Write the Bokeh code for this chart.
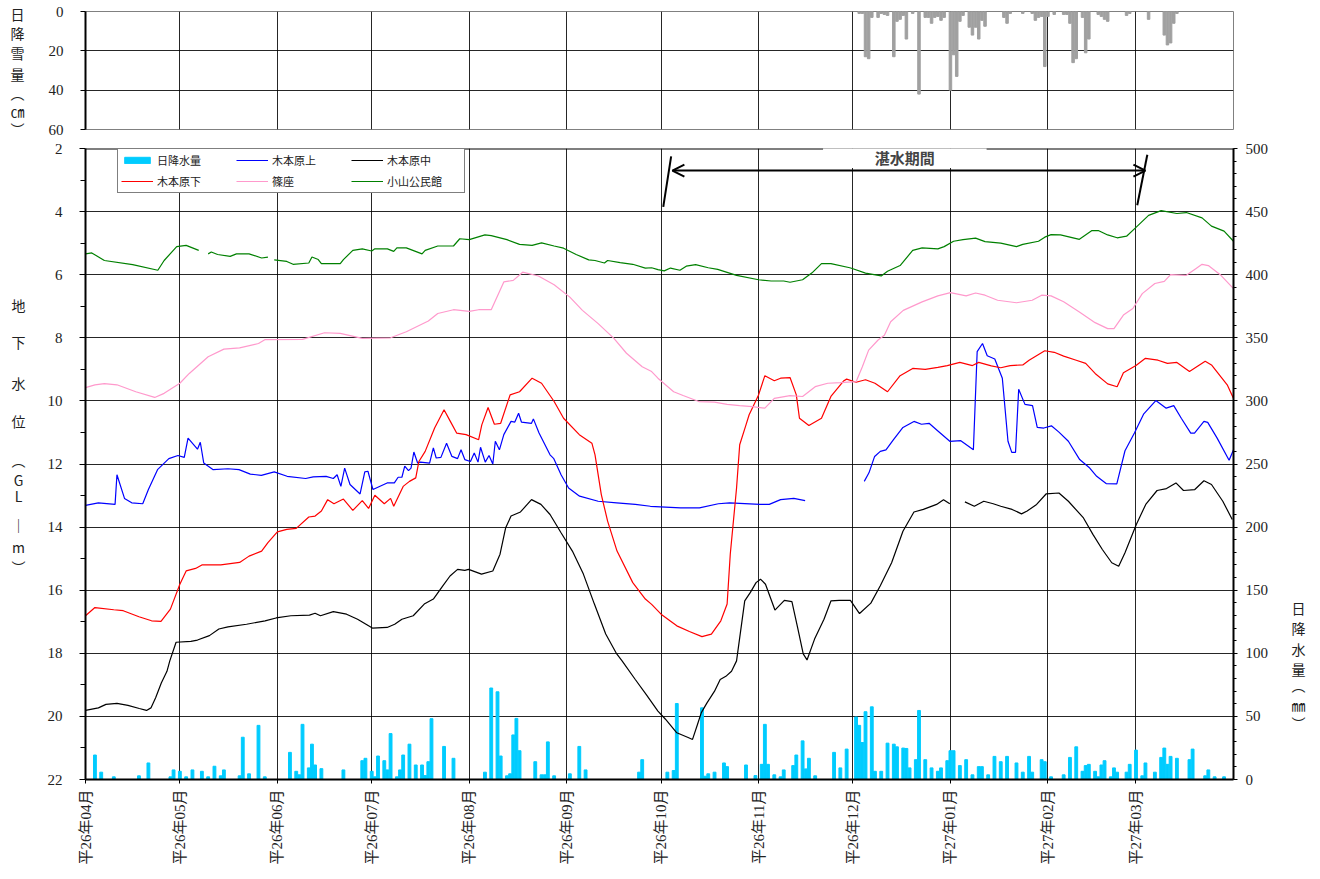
import math
from datetime import date
from bokeh.plotting import figure
from bokeh.layouts import column, row
from bokeh.models import (Range1d, LinearAxis, FixedTicker, Label, Span, BoxAnnotation,
                          Arrow, OpenHead, Legend, LegendItem, Grid)
from bokeh.core.properties import value
from bokeh.embed import file_html
from bokeh.resources import INLINE

NAN = float("nan")
BASE = date(2014, 4, 1)
MONTH_DATES = [date(2014, m, 1) for m in range(4, 13)] + [date(2015, m, 1) for m in (1, 2, 3)]
MONTH_TICKS = [(d - BASE).days for d in MONTH_DATES]
MONTH_LABELS = ["平26年04月", "平26年05月", "平26年06月", "平26年07月", "平26年08月", "平26年09月",
                "平26年10月", "平26年11月", "平26年12月", "平27年01月", "平27年02月", "平27年03月"]
N_DAYS = (date(2015, 4, 1) - BASE).days

# ---- daily snowfall (cm), day index from 2014-04-01 ----
SNOW_DAY = [246, 247, 248, 249, 250, 252, 253, 254, 255, 257, 258, 259, 260, 261, 263, 265, 267, 268,
            269, 270, 271, 272, 273, 275, 276, 277, 278, 279, 281, 282, 283, 284, 285, 286, 292, 293,
            294, 298, 301, 302, 303, 304, 305, 306, 308, 311, 312, 313, 314, 315, 317, 318, 319, 322,
            323, 324, 325, 331, 332, 338, 343, 344, 345, 346, 347]
SNOW_CM = [1, 1, 23, 24, 3, 3, 1, 1.5, 2, 23, 5, 4, 2, 14, 1, 42, 3, 3,
           6, 3, 2.5, 4.5, 3, 40, 22, 33, 5, 2, 8, 12, 8, 14, 4.5, 7.5, 3, 6,
           1, 1, 1, 4.5, 3, 2.5, 28, 2.5, 1.5, 1.5, 1.5, 6, 26, 24, 3, 21, 14, 1.5,
           2.5, 4, 5, 2, 1, 4, 12, 17, 16, 6, 1]

# ---- daily precipitation (mm) ----
RAIN_DAY = [3, 5, 9, 17, 20, 27, 28, 30, 32, 34, 37, 39, 41, 43, 44, 49, 50, 52, 55, 57,
            65, 67, 68, 69, 71, 72, 73, 75, 82, 88, 89, 91, 92, 93, 95, 96, 97, 99, 100, 101,
            103, 105, 107, 108, 109, 110, 114, 117, 127, 129, 131, 132, 134, 135, 136, 137, 138, 143, 145, 146,
            147, 149, 154, 157, 159, 176, 177,
            185, 187, 188, 196, 197, 198, 200, 203, 204, 210, 213, 215, 216, 217, 219, 221, 222, 225,
            226, 228, 229, 230, 232, 238, 240, 242, 245, 246, 247, 248, 250, 251, 253, 255, 257, 258,
            260, 261, 262, 264, 265, 267, 269, 271, 272, 274, 275, 276, 278, 280, 282, 284, 285, 287,
            289, 291, 293, 296, 298, 300, 301, 304, 305, 307, 311, 313, 315, 317, 318, 319, 321, 322,
            323, 324, 326, 327, 328, 331, 332, 334, 336, 337, 340, 342, 343, 344, 345, 347, 351, 352,
            356, 357, 359, 362]
RAIN_MM = [19.4, 5.8, 2.1, 2.9, 13.1, 2.1, 7.6, 6.5, 2.1, 7.6, 6.5, 2.1, 10.5, 2.9, 7.6, 2.9, 33.5, 4.5, 42.9, 2.1,
           21.5, 6.5, 3.7, 43.7, 9.2, 28, 11.5, 8.6, 7.6, 14.9, 16.8, 6.5, 2.1, 18.6, 14.9, 7.6, 36.4, 2.1, 7.6, 19.4,
           28, 11.5, 11.5, 3.1, 14.1, 48.2, 26.2, 16.8, 5.8, 72.5, 69.5, 18.6, 2.9, 4.5, 35.3, 48.4, 22.8, 14.1, 3.7, 3.7,
           29.8, 2.9, 4.5, 26.2, 7.6, 5.8, 15.7,
           5.8, 7.1, 60.2, 56.8, 2.6, 4.5, 5.8, 13.1, 10.2, 11.5, 3.1, 12, 43.7, 12, 3.7, 2.1, 7.6, 11,
           19.4, 30.6, 8.4, 16.8, 2.9, 21.5, 9.2, 24.1, 49.5, 42.9, 29.3, 53.7, 57.6, 6.5, 6.5, 28.8, 28, 25.9,
           24.9, 24.6, 9.2, 15.7, 54.7, 15.7, 9.2, 6.5, 9.2, 14.9, 22.8, 22.8, 11, 15.7, 3.7, 10.2, 10.2, 3.7,
           18.3, 14.1, 18.3, 13.1, 5.8, 18.3, 5.8, 15.7, 14.1, 2.1, 3.7, 17.5, 25.9, 6.5, 11, 12, 6.5, 2.1,
           11.5, 14.9, 2.1, 9.2, 5.8, 5.8, 12, 23.3, 2.9, 13.1, 5.8, 17.5, 24.9, 12, 18.3, 16.8, 15.7, 24.1,
           2.9, 7.6, 2.1, 2.1]

# ---- groundwater level (GL -m) ----
UE_DAY = [0, 4.1, 9.4, 10, 12.4, 14.7, 18.2, 20, 22.9, 26.5, 29.4, 31.4, 32.6, 35.6, 36.5, 37.6, 40.6, 45.3,
          48.8, 52.4, 55.9, 60, 64.1, 70, 72.4, 76.5, 78.8, 80, 81.2, 82.4, 84.1, 87.3, 88.8, 89.8, 91.4,
          95.9, 98.2, 99.4, 100.6, 101.5, 102.7, 103.5, 104.4, 105.6, 106.5, 109.4, 110.6, 111.5, 113,
          114.8, 116.5, 118.3, 119.4, 120.6, 122.4, 123.6, 124.8, 125.6, 127.1, 128.3, 129.5, 130.3,
          131.6, 133, 135.3, 136.5, 137.7, 138.6, 141.8, 142.4, 144.2, 147.7, 148.9, 151.2, 153.6,
          157.1, 163, 168.9, 174.8, 179.6, 189.2, 195.2, 201.2, 204.8, 214.4, 217.4, 221, 225.2, 228.8,
          238,
          247.6, 249.1, 250.9, 252.7, 254.5, 256.9, 259.9, 263.4, 265.8, 268.2, 271.2, 274.8, 278.3,
          282.3, 283.5, 285.2, 286.7, 289.1, 291.5, 293.3, 294.5, 295.7, 296.7, 298.7, 301.1, 302.6,
          304.7, 307.1, 309.5, 312.5, 316.1, 319.1, 321.5, 324.5, 327.9, 330.5, 333.5, 336.4, 340.3,
          343.6, 346, 348.4, 351.4, 352.6, 355.6, 356.8, 359.8, 363.6, 365]
UE_VAL = [13.31, 13.23, 13.28, 12.34, 13.09, 13.23, 13.26, 12.81, 12.18, 11.83, 11.73, 11.79, 11.18, 11.53,
          11.31, 11.97, 12.18, 12.15, 12.18, 12.32, 12.36, 12.25, 12.39, 12.46, 12.41, 12.39, 12.46, 12.34,
          12.71, 12.13, 12.65, 12.95, 12.25, 12.23, 12.81, 12.6, 12.6, 12.42, 12.42, 12.07, 12.21, 12.13,
          11.62, 11.97, 11.94, 11.97, 11.49, 11.81, 11.79, 11.34, 11.76, 11.83, 11.55, 11.86, 11.92, 11.65,
          11.94, 11.47, 11.94, 11.73, 12.0, 11.28, 11.55, 11.07, 10.65, 10.67, 10.39, 10.67, 10.71, 10.57,
          11.02, 11.71, 11.83, 12.34, 12.76, 13.02, 13.18, 13.23, 13.28, 13.34, 13.39, 13.39, 13.26, 13.23,
          13.28, 13.28, 13.13, 13.09, 13.16,
          NAN,
          12.55, 12.28, 11.76, 11.6, 11.55, 11.23, 10.84, 10.65, 10.74, 10.71, 10.97, 11.28, 11.26, 11.55,
          8.44, 8.18, 8.57, 8.67, 9.28, 11.28, 11.63, 11.63, 9.63, 10.11, 10.15, 10.84, 10.86, 10.79, 10.99,
          11.28, 11.86, 12.11, 12.39, 12.62, 12.63, 11.58, 11.02, 10.42, 9.99, 10.23, 10.15, 10.55, 11.02,
          11.02, 10.65, 10.68, 11.18, 11.88, 11.55]

NAKA_DAY = [0, 4.1, 6.5, 10, 13.5, 17.1, 19.4, 20.8, 22.3, 24.1, 25.9, 26.8, 28.8, 33.5, 35.6, 39.4, 42.4,
            45.3, 51.2, 57.1, 60.6, 65.3, 71.2, 73, 74.7, 78.8, 83, 86.5, 91.2, 95.9, 98.3, 100.6, 104.2,
            107.7, 110.6, 113.6, 115.9, 118.3, 120.6, 121.8, 125.9, 129.5, 131.8, 133.6, 135.3, 138.3,
            141.8, 144.8, 147.7, 151.2, 154.8, 158.3, 161.8, 165.4, 168.9, 170.6, 174.8, 178.3, 182,
            184.4, 188, 191.6, 193, 194.6, 195.8, 197.6, 200, 201.8, 203.6, 205.4, 207, 209.6, 211.4,
            213.2, 214.6, 216.2, 219.2, 222.2, 224.6, 226.4, 228.2, 229.4, 231.8, 234.8, 237, 239.6,
            243.2, 246.1, 249.7, 252.7, 256.3, 259.9, 263.4, 266.4, 270.6, 272.8, 274.8,
            277,
            279.6, 282.6, 285.6, 288.6, 291, 294.6, 297.6, 299.4, 302.4, 305.4, 309.5, 312.5, 317.3,
            320.3, 323.3, 326.3, 328.5, 330.5, 334.1, 337.1, 340.7, 343.7, 346.7, 349.1, 352.7, 355.6,
            358, 361.6, 364.6]
NAKA_VAL = [19.81, 19.73, 19.62, 19.59, 19.65, 19.75, 19.81, 19.73, 19.41, 18.94, 18.57, 18.24, 17.65, 17.62,
            17.58, 17.44, 17.23, 17.16, 17.08, 16.97, 16.88, 16.81, 16.79, 16.73, 16.81, 16.68, 16.76, 16.92,
            17.2, 17.18, 17.08, 16.92, 16.81, 16.44, 16.28, 15.86, 15.55, 15.34, 15.37, 15.34, 15.49, 15.39,
            14.86, 14.02, 13.65, 13.52, 13.13, 13.28, 13.6, 14.18, 14.76, 15.49, 16.44, 17.39, 18.02, 18.24,
            18.83, 19.31, 19.83, 20.09, 20.52, 20.67, 20.73, 20.25, 19.88, 19.57, 19.2, 18.83, 18.73, 18.57,
            18.24, 16.34, 16.07, 15.76, 15.65, 15.81, 16.63, 16.32, 16.36, 17.18, 18.02, 18.21, 17.55, 16.92,
            16.34, 16.32, 16.32, 16.74, 16.41, 15.86, 15.13, 14.13, 13.52, 13.44, 13.28, 13.13, 13.26,
            NAN,
            13.2, 13.34, 13.18, 13.26, 13.34, 13.44, 13.58, 13.49, 13.28, 12.95, 12.92, 13.18, 13.71, 14.23,
            14.71, 15.13, 15.24, 14.81, 13.92, 13.28, 12.84, 12.78, 12.6, 12.84, 12.81, 12.53, 12.65, 13.18,
            13.76]

SHITA_DAY = [0, 3, 9, 12, 17, 21, 24, 27, 30, 32, 35, 37, 43, 49, 52, 56, 58, 61, 64, 67, 71, 73, 75, 77,
             79, 82, 85, 88, 90, 92, 95, 97, 98, 101, 103, 105, 106, 108, 111, 114, 116, 118, 121, 125,
             126, 128, 130, 132, 135, 138, 142, 145, 149, 152, 157, 161, 162, 164, 166, 169, 174, 178,
             180, 183, 188, 192, 196, 199, 202, 204, 205, 207, 208, 210, 211, 214, 216, 219, 221, 224,
             226, 227, 230, 234, 237, 241, 242, 245, 248, 251, 255, 259, 263, 267, 271, 274, 278, 282,
             284, 288, 291, 294, 298, 300, 305, 308, 311, 315, 318, 321, 325, 328, 330, 334, 337, 341,
             344, 347, 351, 356, 358, 363, 365]
SHITA_VAL = [16.81, 16.55, 16.62, 16.65, 16.84, 16.97, 16.99, 16.6, 15.81, 15.39, 15.31, 15.2, 15.2, 15.12,
             14.92, 14.76, 14.49, 14.15, 14.07, 14.04, 13.68, 13.65, 13.49, 13.13, 13.26, 13.11, 13.47,
             13.16, 13.41, 12.99, 13.26, 13.09, 13.34, 12.71, 12.55, 12.44, 11.92, 11.6, 10.86, 10.28,
             10.65, 11.02, 11.07, 11.23, 10.76, 10.21, 10.74, 10.71, 9.81, 9.71, 9.28, 9.44, 10.02, 10.55,
             11.07, 11.34, 11.71, 12.97, 13.81, 14.76, 15.76, 16.28, 16.45, 16.76, 17.13, 17.31, 17.47,
             17.39, 16.97, 16.44, 14.86, 12.76, 11.39, 10.76, 10.44, 9.81, 9.2, 9.36, 9.28, 9.26, 9.81,
             10.55, 10.78, 10.55, 9.86, 9.37, 9.31, 9.41, 9.33, 9.44, 9.71, 9.2, 8.97, 9.0, 8.94, 8.88,
             8.78, 8.88, 8.78, 8.89, 8.95, 8.88, 8.86, 8.71, 8.41, 8.46, 8.58, 8.71, 8.81, 9.13, 9.46,
             9.55, 9.11, 8.88, 8.65, 8.71, 8.81, 8.78, 9.07, 8.74, 8.86, 9.49, 9.92]

SHINOKURA_DAY = [0, 3, 6, 10, 16, 22, 25, 30, 33, 39, 44, 49, 55, 57, 69, 76, 81, 88, 97, 102, 109, 112,
                 117, 122, 125, 129, 133, 136, 139, 144, 149, 154, 158, 163, 168, 172, 177, 180, 182,
                 187, 190, 195, 200, 204, 208, 212, 216, 219, 224, 228, 232, 236, 240, 245, 247, 249,
                 252, 254, 256, 260, 266, 271, 275, 280, 283, 286, 290, 296, 301, 304, 307, 311, 316,
                 321, 325, 327, 330, 333, 336, 340, 343, 345, 350, 353, 355, 357, 361, 365]
SHINOKURA_VAL = [9.58, 9.49, 9.45, 9.49, 9.71, 9.89, 9.76, 9.44, 9.13, 8.6, 8.36, 8.32, 8.18, 8.06, 8.05,
                 7.84, 7.86, 8.02, 8.0, 7.81, 7.47, 7.23, 7.11, 7.16, 7.11, 7.11, 6.23, 6.18, 5.92, 6.04,
                 6.32, 6.71, 7.13, 7.55, 8.02, 8.49, 8.92, 9.07, 9.28, 9.71, 9.83, 10.02, 10.04, 10.11,
                 10.15, 10.18, 10.23, 9.92, 9.83, 9.86, 9.55, 9.44, 9.42, 9.39, 8.92, 8.39, 8.07, 7.92,
                 7.49, 7.13, 6.86, 6.67, 6.57, 6.67, 6.58, 6.65, 6.81, 6.89, 6.81, 6.65, 6.67, 6.86, 7.18,
                 7.52, 7.71, 7.71, 7.28, 7.07, 6.6, 6.28, 6.21, 6.0, 6.02, 5.81, 5.67, 5.71, 6.02, 6.44]

KOYAMA_DAY = [0, 2, 6, 15, 23, 25, 29, 32, 36, 37, 39, 40, 42, 46, 48, 52, 56, 58, 59, 60, 64, 66, 71, 72,
              74, 75, 81, 82, 85, 88, 91, 92, 96, 98, 99, 102, 107, 108, 112, 117, 119, 122, 127, 129,
              134, 138, 142, 145, 149, 152, 156, 160, 162, 165, 166, 170, 174, 178, 180, 182, 184, 186,
              189, 191, 194, 198, 201, 207, 214, 218, 222, 224, 228, 231, 234, 237, 243, 244, 248, 253,
              255, 259, 263, 266, 271, 273, 276, 279, 283, 286, 291, 296, 298, 303, 305, 307, 310, 313,
              316, 320, 322, 325, 328, 331, 334, 338, 342, 347, 350, 355, 358, 362, 365]
KOYAMA_VAL = [5.34, 5.31, 5.55, 5.68, 5.86, 5.55, 5.11, 5.07, 5.23, NAN, 5.34, 5.28, 5.36, 5.42, 5.34, 5.34,
              5.47, 5.44, NAN, 5.53, 5.58, 5.67, 5.63, 5.44, 5.52, 5.65, 5.65, 5.52, 5.23, 5.18, 5.25, 5.18,
              5.18, 5.26, 5.15, 5.15, 5.34, 5.23, 5.09, 5.09, 4.86, 4.89, 4.74, 4.76, 4.89, 5.04, 5.07, 4.99,
              5.09, 5.16, 5.36, 5.53, 5.55, 5.63, 5.55, 5.62, 5.67, 5.79, 5.78, 5.84, 5.88, 5.79, 5.86, 5.73,
              5.68, 5.78, 5.83, 6.02, 6.16, 6.2, 6.2, 6.24, 6.16, 5.94, 5.65, 5.65, 5.78, 5.81, 5.95, 6.04,
              5.89, 5.71, 5.23, 5.15, 5.18, 5.11, 4.94, 4.89, 4.84, 4.95, 5.0, 5.11, 5.04, 4.94, 4.81, 4.73,
              4.74, 4.81, 4.88, 4.6, 4.6, 4.74, 4.83, 4.78, 4.5, 4.12, 3.97, 4.06, 4.03, 4.2, 4.46, 4.62, 4.94]

FLOOD_START_DAY = 185
FLOOD_END_DAY = 336

# axis titles, written one character per line (vertical text)
SNOW_TITLE = list("日降雪量︵㎝︶")
GW_TITLE = list("地下水位︵GL｜m︶")
RAIN_TITLE = list("日降水量︵㎜︶")

# ---------------- layout constants (page pixels) ----------------
TOTAL_H = 874
LEFT_W = 40          # strip holding the left titles
MAIN_W = 1240        # the two panels
RIGHT_W = 36         # strip holding the right title
SERIF = "Liberation Serif"
JP = "Noto Sans CJK JP"


def title_strip(width, xs, ys, chars):
    f = figure(width=width, height=TOTAL_H, x_range=Range1d(0, width), y_range=Range1d(TOTAL_H, 0),
               output_backend="svg", toolbar_location=None, x_axis_location=None,
               y_axis_location=None, min_border=0, outline_line_color=None)
    f.grid.visible = False
    f.text(x=xs, y=ys, text=chars, text_align="center", text_baseline="middle",
           text_font=value(JP), text_font_size="14px", text_color="#222222")
    return f


# ---------------- top panel: snowfall ----------------
p1 = figure(width=MAIN_W, height=139, x_range=Range1d(0, N_DAYS), y_range=Range1d(60, 0),
            output_backend="svg", toolbar_location=None, x_axis_location=None,
            min_border_left=85 - LEFT_W, min_border_right=LEFT_W + MAIN_W - 1240,
            min_border_top=11, min_border_bottom=10)
p1.outline_line_color = "#808080"
for g in p1.xgrid:
    g.visible = False
p1.yaxis.ticker = FixedTicker(ticks=[0, 20, 40, 60], minor_ticks=[])
p1.yaxis.major_tick_out = 5
p1.yaxis.major_tick_in = 0
p1.yaxis.axis_line_width = 2
p1.yaxis.major_label_standoff = 17
p1.yaxis.major_label_text_font = SERIF
p1.yaxis.major_label_text_font_size = "15px"
p1.yaxis.major_label_text_color = "#222222"
p1.ygrid.grid_line_color = "black"
p1.ygrid.grid_line_alpha = 0.85
p1.add_layout(Grid(dimension=0, ticker=FixedTicker(ticks=MONTH_TICKS), grid_line_color="black",
                   grid_line_alpha=0.85))
p1.vbar(x=SNOW_DAY, top=SNOW_CM, bottom=0, width=0.8, color="#A0A0A0")

# ---------------- bottom panel: groundwater ----------------
p2 = figure(width=MAIN_W, height=TOTAL_H - 139, x_range=Range1d(0, N_DAYS), y_range=Range1d(22, 2),
            output_backend="svg", toolbar_location=None,
            min_border_left=85 - LEFT_W, min_border_right=LEFT_W + MAIN_W - 1233,
            min_border_top=9, min_border_bottom=95)
p2.outline_line_color = None
p2.extra_y_ranges = {"rain": Range1d(0, 500)}

p2.xaxis.ticker = FixedTicker(ticks=MONTH_TICKS, minor_ticks=[])
p2.xaxis.major_label_overrides = {t: lab for t, lab in zip(MONTH_TICKS, MONTH_LABELS)}
p2.xaxis.major_label_orientation = math.pi / 2
p2.xaxis.major_label_text_font = SERIF + ", " + JP
p2.xaxis.major_label_text_font_size = "15px"
p2.xaxis.major_label_text_color = "#222222"
p2.xaxis.major_tick_out = 4
p2.xaxis.major_tick_in = 0
p2.xaxis.axis_line_width = 2
p2.xaxis.major_label_standoff = 6

p2.yaxis.ticker = FixedTicker(ticks=list(range(2, 23, 2)), minor_ticks=list(range(3, 22, 2)))
p2.yaxis.major_tick_out = 6
p2.yaxis.major_tick_in = 0
p2.yaxis.minor_tick_out = 5
p2.yaxis.minor_tick_in = 0
p2.yaxis.axis_line_width = 2
p2.yaxis.major_label_standoff = 17
p2.yaxis.major_label_text_font = SERIF
p2.yaxis.major_label_text_font_size = "15px"
p2.yaxis.major_label_text_color = "#222222"

rain_axis = LinearAxis(y_range_name="rain",
                       ticker=FixedTicker(ticks=list(range(0, 501, 50)),
                                          minor_ticks=list(range(0, 501, 10))))
rain_axis.major_tick_out = 4
rain_axis.major_tick_in = 0
rain_axis.minor_tick_out = 3
rain_axis.minor_tick_in = 0
rain_axis.axis_line_width = 2
rain_axis.major_label_standoff = 8
rain_axis.major_label_text_font = SERIF
rain_axis.major_label_text_font_size = "15px"
rain_axis.major_label_text_color = "#222222"
p2.add_layout(rain_axis, "right")

p2.xgrid.ticker = FixedTicker(ticks=MONTH_TICKS)
p2.xgrid.grid_line_color = "black"
p2.xgrid.grid_line_alpha = 0.85
p2.ygrid.grid_line_color = "black"
p2.ygrid.grid_line_alpha = 0.85

r_rain = p2.vbar(x=RAIN_DAY, top=RAIN_MM, bottom=0, width=0.9, y_range_name="rain",
                 color="#00CCFF")
r_ue = p2.line(UE_DAY, UE_VAL, color="#0000FF", line_width=1.2)
r_naka = p2.line(NAKA_DAY, NAKA_VAL, color="#000000", line_width=1.2)
r_shita = p2.line(SHITA_DAY, SHITA_VAL, color="#FF0000", line_width=1.2)
r_shino = p2.line(SHINOKURA_DAY, SHINOKURA_VAL, color="#FF99CC", line_width=1.2)
r_koyama = p2.line(KOYAMA_DAY, KOYAMA_VAL, color="#008000", line_width=1.2)

# top frame line, interrupted by the period caption
p2.add_layout(Span(location=2, dimension="width", line_color="black", line_width=2))
mid = (FLOOD_START_DAY + FLOOD_END_DAY) / 2
p2.add_layout(BoxAnnotation(left=mid - 26, right=mid + 26, top=1.6, bottom=2.62,
                            fill_color="white", fill_alpha=1, line_alpha=0))
p2.add_layout(Arrow(start=OpenHead(size=12, line_width=2), end=OpenHead(size=12, line_width=2),
                    x_start=FLOOD_START_DAY + 1.6, y_start=2.7,
                    x_end=FLOOD_END_DAY + 1, y_end=2.7, line_width=2))
p2.segment(x0=[FLOOD_START_DAY - 1.3, FLOOD_END_DAY - 1.6], y0=[3.85, 3.8],
           x1=[FLOOD_START_DAY + 1.2, FLOOD_END_DAY + 1.6], y1=[2.25, 2.2],
           line_color="black", line_width=2)
p2.add_layout(Label(x=mid, y=2.3, text="湛水期間", text_align="center", text_baseline="middle",
                    text_font=JP, text_font_size="15px", text_font_style="bold"))

legend = Legend(items=[LegendItem(label="日降水量", renderers=[r_rain]),
                       LegendItem(label="木本原上", renderers=[r_ue]),
                       LegendItem(label="木本原中", renderers=[r_naka]),
                       LegendItem(label="木本原下", renderers=[r_shita]),
                       LegendItem(label="篠座", renderers=[r_shino]),
                       LegendItem(label="小山公民館", renderers=[r_koyama])],
                location=(32, 586), orientation="horizontal", ncols=3,
                label_text_font=JP, label_text_font_size="11px", label_text_color="#222222",
                glyph_width=32, glyph_height=8, label_height=16, label_width=74,
                label_standoff=4, spacing=5, padding=3, margin=0,
                border_line_color="black", border_line_width=1, background_fill_alpha=1)
p2.add_layout(legend)

# ---------------- title strips ----------------
left = title_strip(LEFT_W,
                   [17] * len(SNOW_TITLE) + [18] * len(GW_TITLE),
                   [13, 32, 52, 73, 92, 110, 128] + [304, 341, 382, 420, 459, 479, 495, 524, 546, 566],
                   SNOW_TITLE + GW_TITLE)
right = title_strip(RIGHT_W, [18] * len(RAIN_TITLE), [607, 627, 648, 668, 684, 704, 722], RAIN_TITLE)

layout = row(left, column(p1, p2), right)
open("out.html", "w").write(file_html(layout, INLINE))
